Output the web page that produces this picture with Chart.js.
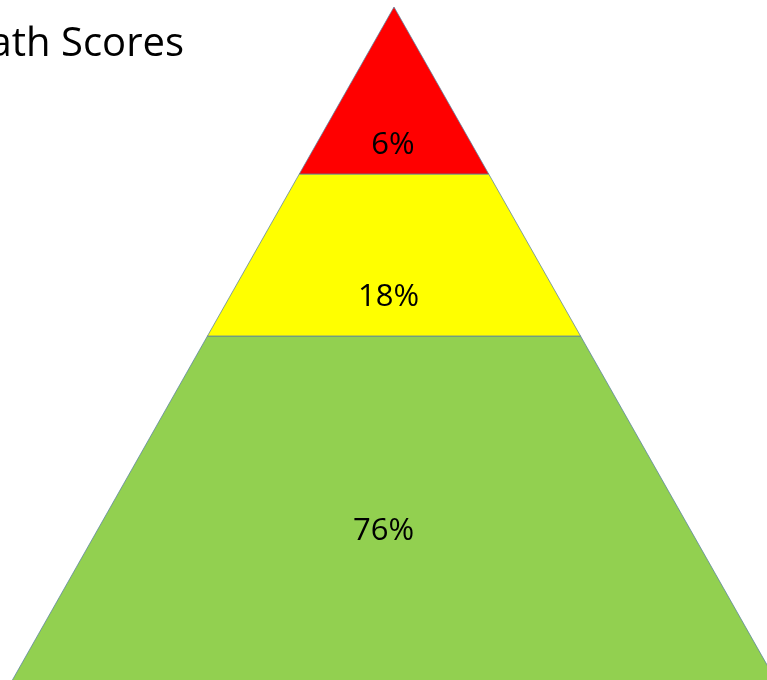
<!DOCTYPE html>
<html>
<head>
<meta charset="utf-8">
<script src="https://cdn.jsdelivr.net/npm/chart.js@4"></script>
<style>
  html, body { margin: 0; padding: 0; background: #fff; }
  canvas { display: block; }
</style>
</head>
<body>
<canvas id="pyramid" width="767" height="680"></canvas>
<script>
// Pyramid layers, top to bottom
const layerLabels = ["6%", "18%", "76%"];
const layerColors = ["#FF0000", "#FFFF00", "#92D050"];
// depth of each layer boundary below the apex (green runs past the frame)
const layerEdges = [0, 167, 329, 720];
// half width gained per unit of depth
const SLOPE = 0.567;

const TITLE = "Math Scores";

// text spot inside each layer (x offset from centre, depth)
const labelSpots = [[-1, 138.5], [-5.5, 290], [-10.5, 524.5]];

function layerPolygon(i) {
    const top = layerEdges[i], bottom = layerEdges[i + 1];
    const wt = top * SLOPE, wb = bottom * SLOPE;
    return [
        { x: -wt, y: top }, { x: wt, y: top },
        { x: wb, y: bottom }, { x: -wb, y: bottom },
        { x: -wt, y: top }
    ];
}

const datasets = layerLabels.map((lbl, i) => ({
    label: lbl,
    data: layerPolygon(i),
    showLine: true,
    fill: 'shape',
    backgroundColor: layerColors[i],
    borderColor: 'rgba(90, 130, 160, 0.75)',
    borderWidth: 1,
    pointRadius: 0,
    tension: 0
}));

const labelPlugin = {
    id: 'layerText',
    afterDatasetsDraw(chart) {
        const ctx = chart.ctx;
        const xs = chart.scales.x, ys = chart.scales.y;
        ctx.save();
        ctx.fillStyle = '#000';
        ctx.font = '31px "Open Sans"';
        ctx.textAlign = 'center';
        ctx.textBaseline = 'middle';
        layerLabels.forEach((lbl, i) => {
            const [dx, d] = labelSpots[i];
            ctx.fillText(lbl, xs.getPixelForValue(dx), ys.getPixelForValue(d));
        });
        // title, partly off the left edge like the source
        ctx.font = '40px "Open Sans"';
        ctx.textAlign = 'right';
        ctx.textBaseline = 'alphabetic';
        ctx.fillText(TITLE, 184, 56);
        ctx.restore();
    }
};

new Chart(document.getElementById('pyramid'), {
    type: 'scatter',
    data: { datasets },
    options: {
        responsive: false,
        animation: false,
        layout: { padding: 0 },
        scales: {
            x: { display: false, min: -394, max: 373 },
            y: { display: false, min: -7, max: 673, reverse: true }
        },
        plugins: {
            legend: { display: false },
            tooltip: { enabled: false }
        }
    },
    plugins: [labelPlugin]
});
</script>
</body>
</html>
